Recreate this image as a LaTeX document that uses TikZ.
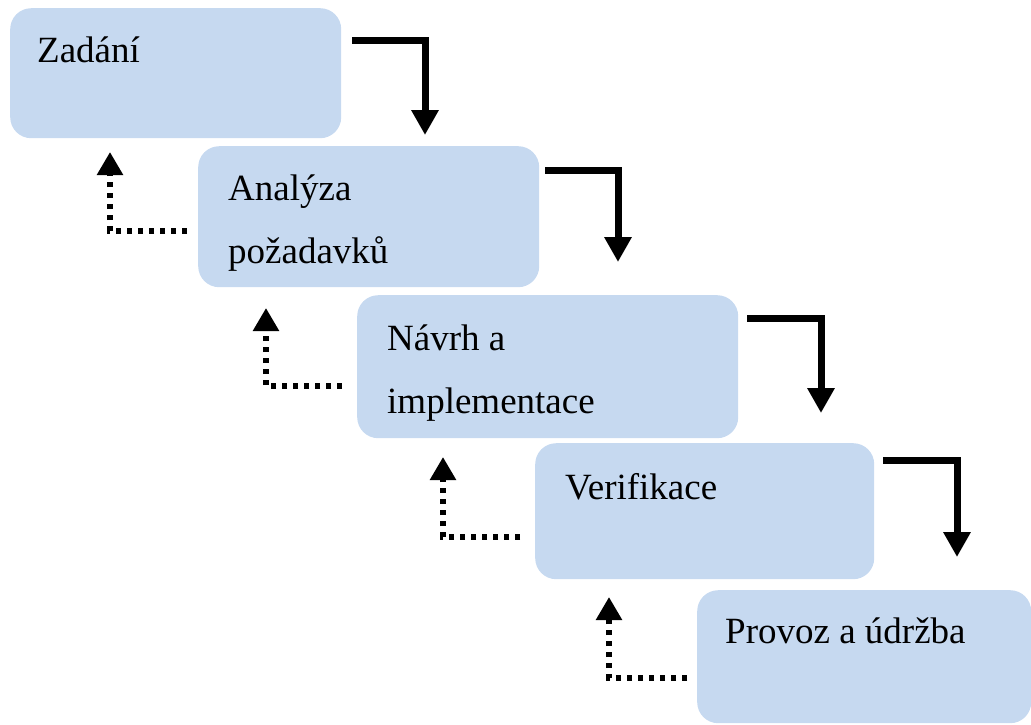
\documentclass[tikz,border=0pt]{standalone}
\usepackage{fontspec}
\setmainfont{Liberation Serif}
\usetikzlibrary{arrows.meta}
\definecolor{stagefill}{RGB}{198,217,240}
\begin{document}
\begin{tikzpicture}[x=1pt, y=-1pt,
  stagebox/.style={fill=stagefill, draw=none, rounded corners=21pt,
    anchor=north west, inner sep=0pt},
  stagetext/.style={anchor=base west, inner sep=0pt,
    font=\fontsize{37}{44}\selectfont},
  forward/.style={line width=7pt, line join=miter,
    -{Triangle[width=26pt,length=25pt]}},
  backward/.style={line width=5.5pt, dash pattern=on 5.5pt off 5.5pt,
    -{Triangle[width=25pt,length=23pt]}}]
\useasboundingbox (0,0) rectangle (1031,724);

% stages
\node[stagebox, minimum width=331pt, minimum height=130pt] (b1) at (10,8) {};
\node[stagebox, minimum width=341pt, minimum height=141pt] (b2) at (198,146) {};
\node[stagebox, minimum width=381pt, minimum height=143pt] (b3) at (357,295) {};
\node[stagebox, minimum width=339pt, minimum height=136pt] (b4) at (535,443) {};
\node[stagebox, minimum width=334pt, minimum height=133pt] (b5) at (697,590) {};

% stage names
\node[stagetext] (t1) at (37,62) {Zadání};
\node[stagetext] (t2a) at (228,200) {Analýza};
\node[stagetext] (t2b) at (228,263) {požadavků};
\node[stagetext] (t3a) at (387,350) {Návrh a};
\node[stagetext] (t3b) at (387,413) {implementace};
\node[stagetext] (t4) at (565,499) {Verifikace};
\node[stagetext] (t5) at (725,643) {Provoz a údržba};

% forward steps
\coordinate (f1s) at (352,40);  \coordinate (f1e) at (425,135);
\coordinate (f2s) at (545,170); \coordinate (f2e) at (618,262);
\coordinate (f3s) at (747,318); \coordinate (f3e) at (821,413);
\coordinate (f4s) at (883,460); \coordinate (f4e) at (957,557);
\draw[forward] (f1s) -| (f1e);
\draw[forward] (f2s) -| (f2e);
\draw[forward] (f3s) -| (f3e);
\draw[forward] (f4s) -| (f4e);

% feedback steps
\coordinate (r1s) at (187,231); \coordinate (r1e) at (110,152);
\coordinate (r2s) at (342,386); \coordinate (r2e) at (266,308);
\coordinate (r3s) at (520,537); \coordinate (r3e) at (443,457);
\coordinate (r4s) at (687,678); \coordinate (r4e) at (609,597);
\draw[backward] (r1s) -| (r1e);
\draw[backward] (r2s) -| (r2e);
\draw[backward] (r3s) -| (r3e);
\draw[backward] (r4s) -| (r4e);
\end{tikzpicture}
\end{document}
